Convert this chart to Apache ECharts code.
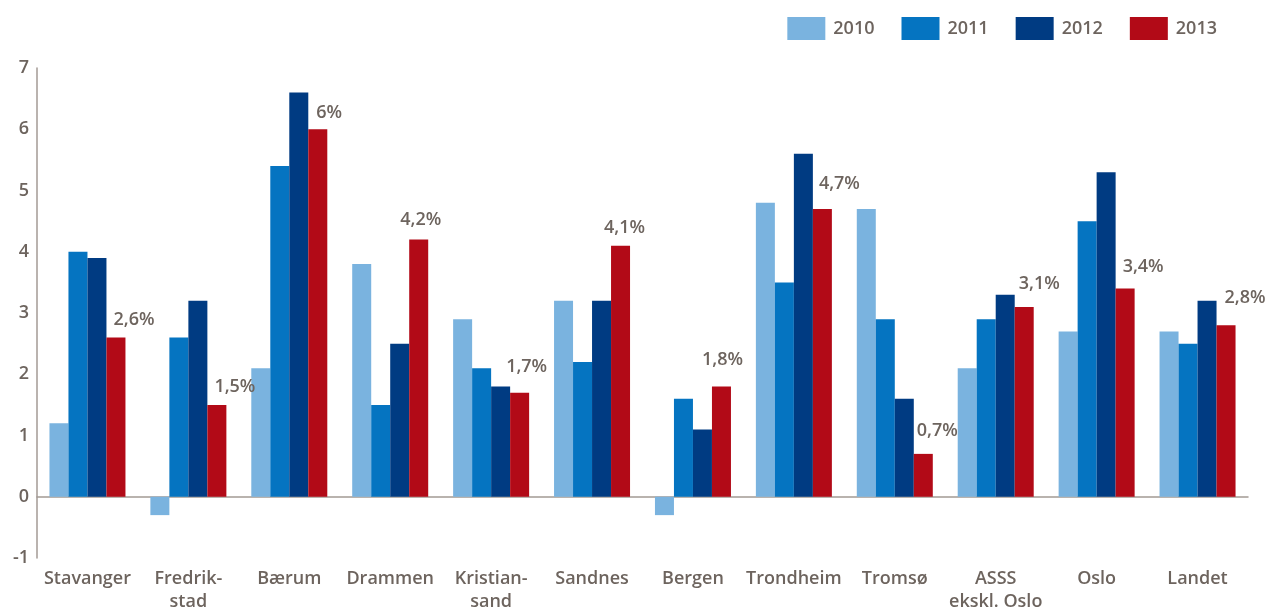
<!DOCTYPE html>
<html>
<head>
<meta charset="utf-8">
<script src="https://cdn.jsdelivr.net/npm/echarts@6/dist/echarts.min.js"></script>
<style>html,body{margin:0;padding:0;background:#fff;}#c{width:1273px;height:610px;}</style>
</head>
<body>
<div id="c"></div>
<script>
const categories = ['Stavanger', 'Fredrik-\nstad', 'Bærum', 'Drammen', 'Kristian-\nsand', 'Sandnes', 'Bergen', 'Trondheim', 'Tromsø', 'ASSS\nekskl. Oslo', 'Oslo', 'Landet'];
const seriesNames = ['2010', '2011', '2012', '2013'];
const v2010 = [1.2, -0.3, 2.1, 3.8, 2.9, 3.2, -0.3, 4.8, 4.7, 2.1, 2.7, 2.7];
const v2011 = [4.0, 2.6, 5.4, 1.5, 2.1, 2.2, 1.6, 3.5, 2.9, 2.9, 4.5, 2.5];
const v2012 = [3.9, 3.2, 6.6, 2.5, 1.8, 3.2, 1.1, 5.6, 1.6, 3.3, 5.3, 3.2];
const v2013 = [2.6, 1.5, 6.0, 4.2, 1.7, 4.1, 1.8, 4.7, 0.7, 3.1, 3.4, 2.8];
const yTicks = [-1, 0, 1, 2, 3, 4, 5, 6, 7];

// label placement (style): [dx from bar left, gap above bar top]
const labelPlace = [[7, 9], [7, 9], [8, 7], [-9, 11], [-4, 17], [-7, 9], [-10, 18], [6, 16], [3, 14], [4, 14], [7, 13], [8, 18]];

const colors = ['#7ab3df', '#0574c1', '#003b82', '#b20a17'];
const textColor = '#6d645e';
const font = 'Open Sans';
const values = [v2010, v2011, v2012, v2013];

const chart = echarts.init(document.getElementById('c'));
const series = seriesNames.map((name, i) => ({
  name: name,
  type: 'bar',
  barWidth: 19,
  barGap: '0%',
  itemStyle: { color: colors[i] },
  data: values[i].map((v, j) => {
    const d = { value: v };
    if (i === 3) {
      d.label = {
        show: true,
        position: [labelPlace[j][0], -labelPlace[j][1]],
        align: 'left',
        verticalAlign: 'bottom',
        formatter: () => String(v).replace('.', ',') + '%',
        color: textColor,
        fontFamily: font,
        fontWeight: 600,
        fontSize: 18
      };
    }
    return d;
  }),
  emphasis: { disabled: true }
}));

chart.setOption({
  animation: false,
  backgroundColor: '#fff',
  legend: {
    data: seriesNames,
    top: 12,
    right: 51,
    itemWidth: 38,
    itemHeight: 23,
    itemGap: 27,
    icon: 'rect',
    textStyle: { color: textColor, fontFamily: font, fontWeight: 600, fontSize: 18, padding: [0, 0, 0, 3] }
  },
  grid: { left: 37, right: 25, top: 68, bottom: 52, containLabel: false, outerBoundsMode: 'none' },
  xAxis: {
    type: 'category',
    data: categories,
    axisLine: { onZero: true, lineStyle: { color: '#a39a94', width: 1.5 } },
    axisTick: { show: false },
    axisLabel: {
      interval: 0,
      margin: 9,
      color: textColor,
      fontFamily: font,
      fontWeight: 600,
      fontSize: 18,
      lineHeight: 23,
      formatter: (val) => val
    }
  },
  yAxis: {
    type: 'value',
    min: yTicks[0],
    max: yTicks[yTicks.length - 1],
    interval: 1,
    axisLine: { show: true, lineStyle: { color: '#a39a94', width: 1.5 } },
    axisTick: { show: false },
    splitLine: { show: false },
    axisLabel: { margin: 8, color: textColor, fontFamily: font, fontWeight: 600, fontSize: 18 }
  },
  series: series
});
</script>
</body>
</html>
